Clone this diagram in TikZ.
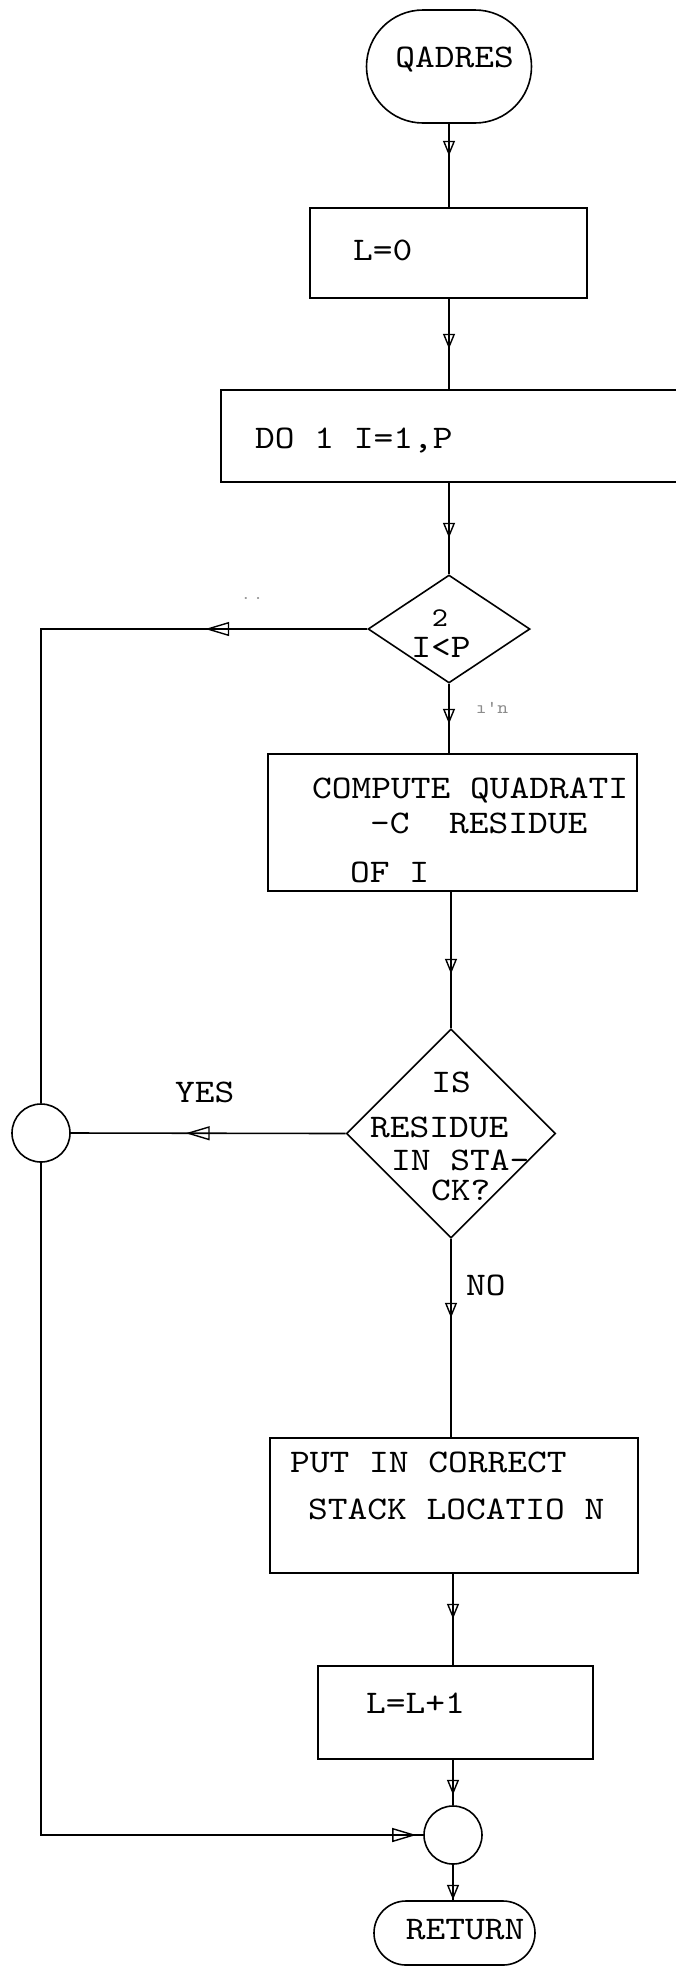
\documentclass[tikz,border=0pt]{standalone}
\usepackage{fontspec}
\newfontfamily\tyfont[FakeStretch=1.14]{lmmono10-regular.otf}
\usetikzlibrary{shapes.geometric,shapes.misc,arrows.meta,decorations.markings}
\newcommand{\typew}{\fontsize{33}{36}\selectfont\tyfont}
\newcommand{\typews}{\fontsize{27}{30}\selectfont\tyfont}
\tikzset{
  ln/.style={line width=1.6pt},
  shp/.style={draw, line width=1.6pt, inner sep=0pt},
  boxnode/.style={shp, rectangle},
  ovalnode/.style={shp, rounded rectangle},
  dec/.style={shp, diamond},
  conn/.style={shp, circle, minimum size=58pt},
  txt/.style={inner sep=0pt, anchor=base west, font=\typew},
  ctxt/.style={inner sep=0pt, anchor=base, font=\typew},
  faint/.style={inner sep=0pt, text=black!45},
  flow/.style={postaction={decorate,decoration={markings,mark=at position #1 with {\arrow{Triangle[open,length=15pt,width=12pt,line width=1.4pt]}}}}},
  flowh/.style={postaction={decorate,decoration={markings,mark=at position #1 with {\arrow{Triangle[open,length=24pt,width=14pt,line width=1.4pt]}}}}}
}
\begin{document}
\begin{tikzpicture}[x=1pt,y=-1pt]
\useasboundingbox (0,0) rectangle (676,1966);
\clip (0,0) rectangle (676,1966);
% shapes
\node[ovalnode, minimum width=165pt, minimum height=113pt] (q) at (449,66.5) {};
\node[boxnode, minimum width=277pt, minimum height=90pt] (l0) at (448.5,253) {};
\node[boxnode, minimum width=469pt, minimum height=92pt] (do) at (455.5,436) {};
\node[dec, minimum width=162pt, minimum height=108pt] (d1) at (449,629) {};
\node[boxnode, minimum width=369pt, minimum height=137pt] (cq) at (452.5,822.5) {};
\node[dec, minimum width=209pt, minimum height=209pt] (d2) at (451,1133.5) {};
\node[boxnode, minimum width=368pt, minimum height=135pt] (pt) at (454,1505.5) {};
\node[boxnode, minimum width=275pt, minimum height=93pt] (inc) at (455.5,1712.5) {};
\node[conn] (c1) at (41,1133) {};
\node[conn] (c2) at (453,1835) {};
\node[ovalnode, minimum width=161pt, minimum height=64pt] (ret) at (454.5,1933) {};
% texts
\node[ctxt] (qt) at (454.5,67) {QADRES};
\node[txt] (l0t) at (353,260) {L=0};
\node[txt] (dot) at (255,448) {DO 1 I=1,P};
\node[inner sep=0pt, anchor=base, font=\typews] (d1a) at (440,626) {2};
\node[ctxt] (d1b) at (441,657) {I<P};
\node[txt] (cq1) at (312,798) {COMPUTE QUADRATI};
\node[txt] (cq2) at (370,833) {-C\ \ RESIDUE};
\node[txt] (cq3) at (350,882) {OF I};
\node[ctxt] (d2a) at (451,1092) {IS};
\node[txt] (d2b) at (370,1137) {RESIDUE};
\node[txt] (d2c) at (391,1170) {IN STA-};
\node[txt] (d2d) at (431,1200) {CK?};
\node[txt] (yes) at (175,1102) {YES};
\node[txt] (no) at (466,1295) {NO};
\node[txt] (pt1) at (290,1472) {PUT IN CORRECT};
\node[txt] (pt2) at (308,1519) {STACK LOCATIO N};
\node[txt] (inct) at (366,1713) {L=L+1};
\node[ctxt] (rett) at (465,1939) {RETURN};
\node[faint, font=\fontsize{16}{16}\selectfont\tyfont] (m1) at (252,598) {.\,.};
\node[faint, font=\fontsize{18}{18}\selectfont\tyfont] (m2) at (492,708) {ı'n};
% connectors
\draw[ln, flow=32pt] (q.south) -- (q.south |- l0.north);
\draw[ln, flow=50pt] (l0.south -| q.south) -- (q.south |- do.north);
\draw[ln, flow=55pt] (do.south -| d1.north) -- (d1.north);
\draw[ln, flow=40pt] (d1.south) -- (d1.south |- cq.north);
\draw[ln, flow=82pt] (cq.south -| d2.north) -- (d2.north);
\draw[ln, flow=79pt] (d2.south) -- (d2.south |- pt.north);
\draw[ln, flow=45pt] (pt.south -| c2.north) -- (c2.north |- inc.north);
\draw[ln, flow=35pt] (inc.south -| c2.north) -- (c2.north);
\draw[ln, flow=35pt] (c2.south) -- (c2.south |- ret.north);
\draw[ln, flowh=162pt] (d1.west) -| (c1.north);
\draw[ln, flowh=160pt] (d2.west) -- (c1.east);
\draw[ln, flowh=-7pt] (c1.south) |- (c2.west);
\end{tikzpicture}
\end{document}
